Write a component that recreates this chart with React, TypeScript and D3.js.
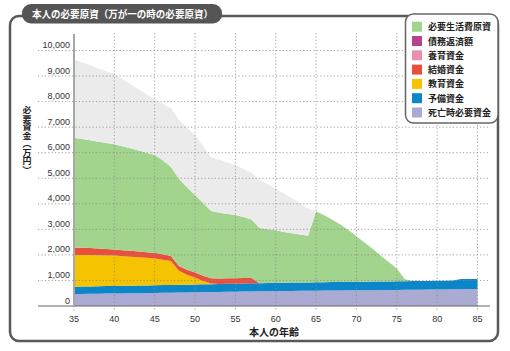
import React from 'react';
import * as d3 from 'd3';

const ages = [35,36,37,38,39,40,41,42,43,44,45,46,47,48,49,50,51,52,53,54,55,56,57,58,59,60,61,62,63,64,65,66,67,68,69,70,71,72,73,74,75,76,77,78,79,80,81,82,83,84,85];

// 死亡時必要資金
const deathFund = [470,474,478,482,486,490,494,498,502,506,510,515,520,525,530,535,540,545,550,555,560,565,570,575,580,585,588,591,594,597,600,603,606,609,612,615,618,621,624,627,630,633,636,639,642,645,649,653,657,661,665];
// 予備資金
const reserveFund = [285,287,289,291,293,295,296,298,299,300,302,303,304,305,306,308,309,310,311,313,314,315,317,318,320,322,323,324,325,326,327,328,329,330,331,332,333,334,335,336,337,338,339,340,341,342,343,345,395,395,395];
// 教育資金
const educationFund = [1245,1235,1225,1212,1200,1187,1160,1135,1105,1080,1050,995,935,545,385,267,130,25,0,0,0,0,0,0,0,0,0,0,0,0,0,0,0,0,0,0,0,0,0,0,0,0,0,0,0,0,0,0,0,0,0];
// 結婚資金
const marriageFund = [290,285,275,265,250,235,230,228,225,222,220,210,195,195,198,200,205,210,215,215,215,215,210,0,0,0,0,0,0,0,0,0,0,0,0,0,0,0,0,0,0,0,0,0,0,0,0,0,0,0,0];
// 必要生活費原資
const livingFund = [4300,4259,4223,4180,4151,4123,4070,4011,3959,3892,3828,3677,3496,3410,3231,3030,2846,2630,2574,2517,2471,2385,2293,2157,2100,2053,1989,1935,1881,1827,2773,2619,2445,2251,2027,1783,1539,1285,1011,757,503,80,0,0,0,0,0,0,0,0,0];
// 参考（グレー領域）
const extraNeed = [3060,3000,2930,2870,2810,2740,2620,2510,2390,2290,2180,2210,2290,2300,2330,2350,2220,2100,2070,2020,1960,1890,1830,1880,1770,1640,1510,1365,1220,1070,0,0,0,0,0,0,0,0,0,0,0,0,0,0,0,0,0,0,0,0,0];

const yTicks = [0,1000,2000,3000,4000,5000,6000,7000,8000,9000,10000];
const xTicks = [35,40,45,50,55,60,65,70,75,80,85];

const legendLabels = ['必要生活費原資','債務返済額','養育資金','結婚資金','教育資金','予備資金','死亡時必要資金'];
const legendColors = ['#a2d48e','#b5428c','#ec8fae','#e8503c','#f5c300','#0a86c9','#aaaad3'];

const title = '本人の必要原資（万が一の時の必要原資）';
const yTitle = '必要資金（万円）';
const xTitle = '本人の年齢';

const seriesKeys = ['death','reserve','education','marriage','living','extra'];
const seriesColors: Record<string,string> = {
  death: '#aaaad3', reserve: '#0a86c9', education: '#f5c300', marriage: '#e8503c', living: '#a2d48e', extra: '#ebebeb',
};

export default function App() {
  const x = d3.scaleLinear().domain([35, 85]).range([74, 477.5]);
  const y = d3.scaleLinear().domain([0, 10000]).range([306, 50.5]);

  const rows = ages.map((a, i) => ({
    age: a,
    death: deathFund[i],
    reserve: reserveFund[i],
    education: educationFund[i],
    marriage: marriageFund[i],
    living: livingFund[i],
    extra: extraNeed[i],
  }));
  const stacked = d3.stack<any>().keys(seriesKeys)(rows);
  const area = d3.area<any>()
    .x((d: any) => x(d.data.age))
    .y0((d: any) => y(d[0]))
    .y1((d: any) => y(d[1]));

  const cjk = '"Noto Sans CJK JP", "Noto Sans", sans-serif';
  const latin = '"Liberation Sans", Arial, sans-serif';

  return (
    <svg width={510} height={351} style={{ position: 'absolute', left: 0, top: 0, background: '#fff' }}>
      {/* frame */}
      <rect x={10} y={16} width={488} height={325} rx={9} fill="#fff" stroke="#595959" strokeWidth={2.5} />

      {/* areas */}
      {stacked.map((s: any) => (
        <path key={s.key} d={area(s) || ''} fill={seriesColors[s.key]} />
      ))}

      {/* horizontal gridlines */}
      {yTicks.filter(t => t > 0).map(t => (
        <line key={'h' + t} x1={38} x2={490} y1={y(t)} y2={y(t)} stroke="#8a8a8a" strokeWidth={0.8} strokeDasharray="1.2,2.2" />
      ))}
      {/* vertical gridlines */}
      {xTicks.filter(t => t > 35).map(t => (
        <line key={'v' + t} x1={x(t)} x2={x(t)} y1={33} y2={310} stroke="#8a8a8a" strokeWidth={0.8} strokeDasharray="1.2,2.2" />
      ))}

      {/* axes */}
      <line x1={38} x2={490} y1={y(0)} y2={y(0)} stroke="#666" strokeWidth={1.2} />
      <line x1={x(35)} x2={x(35)} y1={34} y2={y(0)} stroke="#a8a8a8" strokeWidth={2} />
      <line x1={x(35)} x2={x(35)} y1={y(0)} y2={311} stroke="#8a8a8a" strokeWidth={0.8} strokeDasharray="1.2,2.2" />

      {/* y tick labels */}
      {yTicks.map(t => (
        <text key={'yl' + t} x={70} y={y(t) - 2.5} textAnchor="end" fontFamily={latin} fontSize={9} fill="#333">
          {d3.format(',')(t)}
        </text>
      ))}
      {/* x tick labels */}
      {xTicks.map(t => (
        <text key={'xl' + t} x={x(t)} y={322} textAnchor="middle" fontFamily={latin} fontSize={9} fill="#333">
          {t}
        </text>
      ))}

      {/* axis titles */}
      <text x={274} y={336} textAnchor="middle" fontFamily={cjk} fontSize={10} fontWeight="bold" fill="#222">{xTitle}</text>
      <text x={27} y={106} fontFamily={cjk} fontSize={9} fontWeight="bold" fill="#222" textLength={68} lengthAdjust="spacingAndGlyphs" style={{ writingMode: 'vertical-rl' as any }}>{yTitle}</text>

      {/* title pill */}
      <rect x={22} y={4} width={200} height={19.5} rx={9} fill="#555" />
      <text x={32} y={17.5} fontFamily={cjk} fontSize={10} fontWeight="bold" fill="#fff" textLength={181} lengthAdjust="spacingAndGlyphs">{title}</text>

      {/* legend */}
      <rect x={405.5} y={14} width={92.5} height={109} rx={8} fill="#fff" stroke="#666" strokeWidth={1.5} />
      {legendLabels.map((lab, i) => {
        const cy = 26.7 + i * 14.3;
        return (
          <g key={lab}>
            <rect x={412} y={cy - 5} width={10} height={10} fill={legendColors[i]} />
            <text x={428} y={cy + 3.5} fontFamily={cjk} fontSize={9} fontWeight="bold" fill="#222">{lab}</text>
          </g>
        );
      })}
    </svg>
  );
}
